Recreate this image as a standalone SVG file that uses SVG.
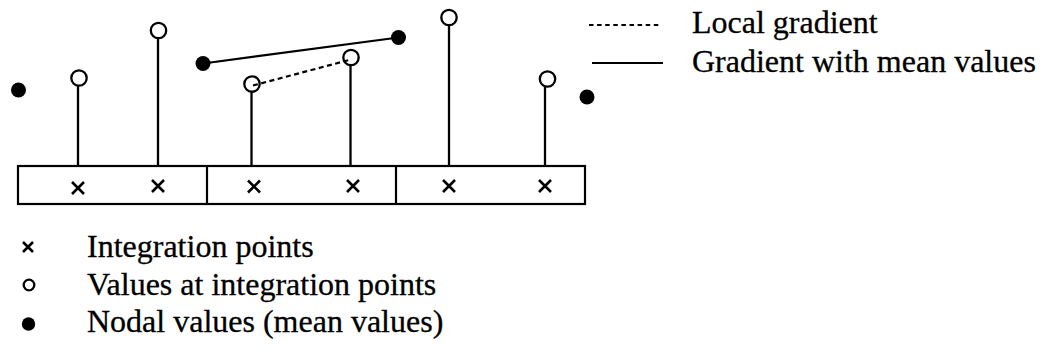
<svg xmlns="http://www.w3.org/2000/svg" width="1044" height="354" viewBox="0 0 1044 354">
  <defs>
    <style>
      .ln { stroke: #000; stroke-width: 2.2; fill: none; }
      .stem { stroke: #000; stroke-width: 2.3; }
      .ip { stroke: #000; stroke-width: 2.3; fill: #fff; }
      .node { fill: #000; }
      .cross { stroke: #000; stroke-width: 2.6; fill: none; }
      .lbl { font-family: "Liberation Serif", "Times New Roman", serif; font-size: 32px; fill: #000; stroke: #000; stroke-width: 0.3; }
    </style>
    <path id="x" class="cross" d="M-6,-6 L6,6 M-6,6 L6,-6"/>
  </defs>
  <rect width="1044" height="354" fill="#fff"/>

  <!-- element strip: three elements -->
  <g id="elements">
    <rect class="ln" x="18" y="166" width="567" height="38"/>
    <line class="ln" x1="207" y1="166" x2="207" y2="204"/>
    <line class="ln" x1="396" y1="166" x2="396" y2="204"/>
  </g>

  <!-- integration points -->
  <g id="integration-points">
    <use href="#x" x="78" y="188"/>
    <use href="#x" x="158" y="186"/>
    <use href="#x" x="254" y="186.5"/>
    <use href="#x" x="353" y="186"/>
    <use href="#x" x="449" y="186"/>
    <use href="#x" x="545" y="186"/>
  </g>

  <!-- values at integration points -->
  <g id="values">
    <circle class="ip" cx="79" cy="78" r="7.7"/>
    <circle class="ip" cx="158.5" cy="30.5" r="7.7"/>
    <circle class="ip" cx="252" cy="84" r="7.7"/>
    <circle class="ip" cx="351" cy="57.5" r="7.7"/>
    <circle class="ip" cx="449" cy="17.5" r="7.7"/>
    <circle class="ip" cx="547.5" cy="79" r="7.7"/>
  </g>

  <!-- connectors: stems and gradients -->
  <g id="connectors">
    <line class="stem" x1="78" y1="86" x2="78" y2="166"/>
    <line class="stem" x1="158" y1="38" x2="158" y2="166"/>
    <line class="stem" x1="251.5" y1="92" x2="251.5" y2="166"/>
    <line class="stem" x1="350.5" y1="65" x2="350.5" y2="166"/>
    <line class="stem" x1="449" y1="25" x2="449" y2="166"/>
    <line class="stem" x1="545" y1="87" x2="545" y2="166"/>
    <line class="ln" x1="203" y1="63.5" x2="398.5" y2="37.5"/>
    <line class="ln" x1="253" y1="85.5" x2="351" y2="59.5" stroke-dasharray="5 3.5" stroke-width="2.1"/>
  </g>

  <!-- nodal mean values -->
  <g id="nodes">
    <circle class="node" cx="18.5" cy="90" r="7.5"/>
    <circle class="node" cx="203" cy="63.5" r="7.5"/>
    <circle class="node" cx="398.5" cy="37.5" r="7.5"/>
    <circle class="node" cx="587" cy="97" r="7.5"/>
  </g>

  <!-- line legend -->
  <g id="legend-lines">
    <line class="ln" x1="589" y1="25" x2="660" y2="25" stroke-width="1.8" stroke-dasharray="4.5 3.6"/>
    <text class="lbl" x="692" y="33">Local gradient</text>
    <line class="ln" x1="592" y1="63" x2="663" y2="63"/>
    <text class="lbl" x="692" y="72">Gradient with mean values</text>
  </g>

  <!-- symbol legend -->
  <g id="legend-symbols">
    <path class="cross" d="M23,242 L33,252 M23,252 L33,242" stroke-width="2.3"/>
    <text class="lbl" x="87" y="257">Integration points</text>
    <circle class="ip" cx="29" cy="285" r="5.3" stroke-width="2.2"/>
    <text class="lbl" x="87" y="295">Values at integration points</text>
    <circle class="node" cx="28.5" cy="324" r="6.7"/>
    <text class="lbl" x="87" y="332">Nodal values (mean values)</text>
  </g>
</svg>
